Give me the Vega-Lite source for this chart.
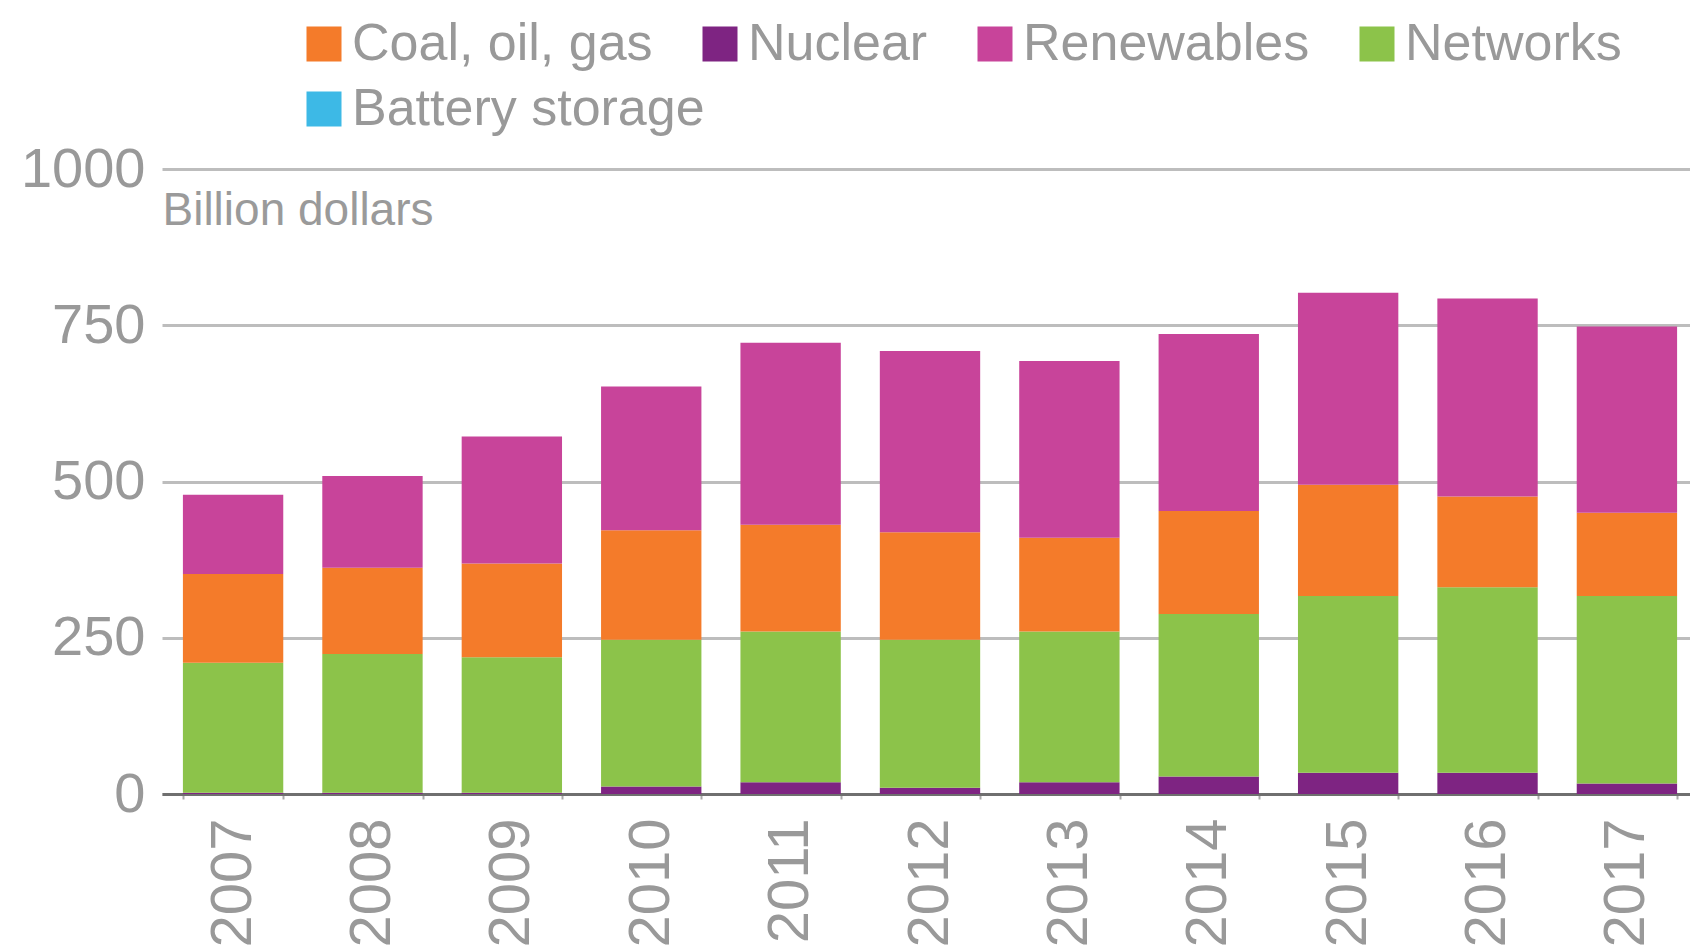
{
  "$schema": "https://vega.github.io/schema/vega-lite/v6.json",
  "autosize": {"type": "none"},
  "padding": {"left": 162, "top": 169, "right": 0, "bottom": 156},
  "width": 1536,
  "height": 625,
  "background": "white",
  "config": {"view": {"stroke": null}, "font": "Liberation Sans"},
  "data": {"values": [
    {"year": "2007", "source": "Nuclear", "value": 2},
    {"year": "2007", "source": "Networks", "value": 208},
    {"year": "2007", "source": "Coal, oil, gas", "value": 142},
    {"year": "2007", "source": "Renewables", "value": 127},
    {"year": "2008", "source": "Nuclear", "value": 2},
    {"year": "2008", "source": "Networks", "value": 222},
    {"year": "2008", "source": "Coal, oil, gas", "value": 138},
    {"year": "2008", "source": "Renewables", "value": 147},
    {"year": "2009", "source": "Nuclear", "value": 2},
    {"year": "2009", "source": "Networks", "value": 217},
    {"year": "2009", "source": "Coal, oil, gas", "value": 150},
    {"year": "2009", "source": "Renewables", "value": 203},
    {"year": "2010", "source": "Nuclear", "value": 12},
    {"year": "2010", "source": "Networks", "value": 235},
    {"year": "2010", "source": "Coal, oil, gas", "value": 175},
    {"year": "2010", "source": "Renewables", "value": 230},
    {"year": "2011", "source": "Nuclear", "value": 19},
    {"year": "2011", "source": "Networks", "value": 241},
    {"year": "2011", "source": "Coal, oil, gas", "value": 171},
    {"year": "2011", "source": "Renewables", "value": 291},
    {"year": "2012", "source": "Nuclear", "value": 10},
    {"year": "2012", "source": "Networks", "value": 237},
    {"year": "2012", "source": "Coal, oil, gas", "value": 172},
    {"year": "2012", "source": "Renewables", "value": 290},
    {"year": "2013", "source": "Nuclear", "value": 19},
    {"year": "2013", "source": "Networks", "value": 241},
    {"year": "2013", "source": "Coal, oil, gas", "value": 150},
    {"year": "2013", "source": "Renewables", "value": 283},
    {"year": "2014", "source": "Nuclear", "value": 28},
    {"year": "2014", "source": "Networks", "value": 260},
    {"year": "2014", "source": "Coal, oil, gas", "value": 165},
    {"year": "2014", "source": "Renewables", "value": 283},
    {"year": "2015", "source": "Nuclear", "value": 34},
    {"year": "2015", "source": "Networks", "value": 283},
    {"year": "2015", "source": "Coal, oil, gas", "value": 178},
    {"year": "2015", "source": "Renewables", "value": 307},
    {"year": "2016", "source": "Nuclear", "value": 34},
    {"year": "2016", "source": "Networks", "value": 297},
    {"year": "2016", "source": "Coal, oil, gas", "value": 145},
    {"year": "2016", "source": "Renewables", "value": 317},
    {"year": "2016", "source": "Battery storage", "value": 0},
    {"year": "2017", "source": "Nuclear", "value": 17},
    {"year": "2017", "source": "Networks", "value": 300},
    {"year": "2017", "source": "Coal, oil, gas", "value": 133},
    {"year": "2017", "source": "Renewables", "value": 298},
    {"year": "2017", "source": "Battery storage", "value": 0}
  ]},
  "encoding": {
    "x": {
      "field": "year", "type": "ordinal",
      "scale": {"paddingInner": 0.28, "paddingOuter": 0.15},
      "axis": {
        "title": null, "labelAngle": -90, "labelFontSize": 58, "labelColor": "#999999",
        "labelPadding": 19, "labelAlign": "right", "labelBaseline": "middle",
        "domainColor": "#6f6f6f", "domainWidth": 3,
        "ticks": true, "tickBand": "extent", "tickColor": "#aaaaaa", "tickSize": 5, "tickWidth": 2
      }
    },
    "y": {
      "field": "value", "type": "quantitative", "aggregate": "sum",
      "scale": {"domain": [0, 1000], "nice": false},
      "axis": {
        "values": [0, 250, 500, 750, 1000], "format": "d",
        "title": "Billion dollars", "titleAngle": 0, "titleX": 0, "titleY": 41,
        "titleAlign": "left", "titleBaseline": "middle", "titleFontSize": 46,
        "titleFontWeight": "normal", "titleColor": "#9a9a9a",
        "labelFontSize": 56, "labelColor": "#999999", "labelPadding": 17,
        "domain": false, "ticks": false,
        "grid": true, "gridColor": "#bdbdbd", "gridWidth": 3
      }
    }
  },
  "layer": [
    {
      "transform": [
        {"filter": "datum.source != 'Battery storage'"},
        {"calculate": "indexof(['Nuclear', 'Networks', 'Coal, oil, gas', 'Renewables'], datum.source)", "as": "stackRank"}
      ],
      "mark": {"type": "bar"},
      "encoding": {
        "order": {"field": "stackRank", "type": "quantitative", "sort": "ascending"},
        "color": {
          "field": "source", "type": "nominal",
          "scale": {
            "domain": ["Coal, oil, gas", "Nuclear", "Renewables", "Networks"],
            "range": ["#F47B2A", "#7E2482", "#C8449A", "#8CC34A"]
          },
          "legend": {
            "title": null, "orient": "none", "legendX": 136, "legendY": -151,
            "direction": "horizontal",
            "symbolType": "square", "symbolSize": 1225, "symbolStrokeWidth": 0,
            "labelFontSize": 52, "labelColor": "#999999", "labelOffset": 2,
            "columnPadding": 41, "labelLimit": 600
          }
        }
      }
    },
    {
      "transform": [{"filter": "datum.source == 'Battery storage'"}],
      "mark": {"type": "bar"},
      "encoding": {
        "color": {
          "field": "source", "type": "nominal",
          "scale": {"domain": ["Battery storage"], "range": ["#3DB9E6"]},
          "legend": {
            "title": null, "orient": "none", "legendX": 136, "legendY": -86,
            "direction": "horizontal",
            "symbolType": "square", "symbolSize": 1225, "symbolStrokeWidth": 0,
            "labelFontSize": 52, "labelColor": "#999999", "labelOffset": 2,
            "labelLimit": 600
          }
        }
      }
    }
  ],
  "resolve": {"scale": {"color": "independent"}, "legend": {"color": "independent"}}
}
